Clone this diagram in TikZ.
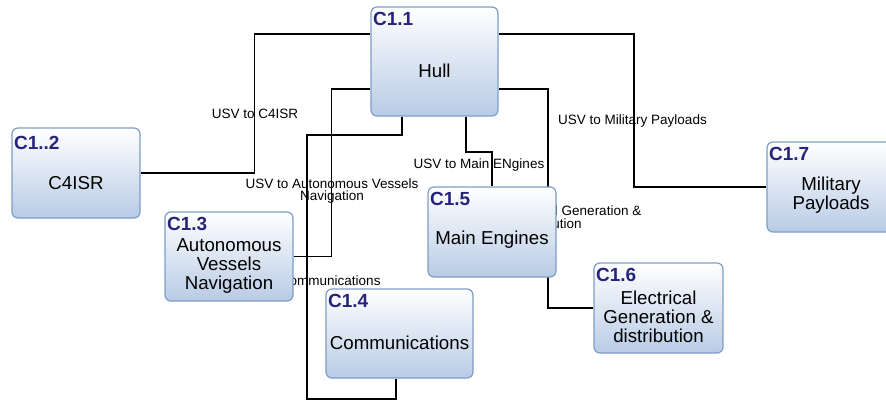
\documentclass[tikz,border=0pt]{standalone}
\usepackage{fontspec}
\setmainfont{Liberation Sans}
\usepackage{tikz}
\usetikzlibrary{backgrounds}
\definecolor{boxline}{RGB}{126,157,196}
\definecolor{boxfill}{RGB}{184,203,229}
\definecolor{idblue}{RGB}{38,36,122}

\begin{document}
\begin{tikzpicture}[x=1pt,y=-1pt,
  box/.style={draw=boxline,line width=1.2pt,rounded corners=6pt,top color=white,bottom color=boxfill,inner sep=0pt},
  maintext/.style={font=\fontsize{18.7}{18.7}\selectfont,align=center,inner sep=0pt},
  idtext/.style={font=\fontsize{19}{20}\selectfont\bfseries,text=idblue,anchor=north west,inner sep=0pt},
  linktext/.style={font=\fontsize{13.5}{12.5}\selectfont,align=center,inner sep=0pt},
  wire/.style={line width=1.8pt,black}]
\path[use as bounding box,clip] (0,0) rectangle (886,402);

% components
\node[box,minimum width=127pt,minimum height=109pt] (hull) at (434.5,61.5) {};
\node[maintext] (hull-txt) at ([yshift=-9pt]hull.center) {Hull};
\node[idtext] (hull-id) at ([xshift=2.5pt,yshift=-6pt]hull.north west) {C1.1};

\node[box,minimum width=128pt,minimum height=90pt] (cfourisr) at (76,173) {};
\node[maintext] (cfourisr-txt) at ([yshift=-10pt]cfourisr.center) {C4ISR};
\node[idtext] (cfourisr-id) at ([xshift=2.5pt,yshift=-8.5pt]cfourisr.north west) {C1..2};

\node[box,minimum width=128pt,minimum height=89pt] (avn) at (229,256.5) {};
\node[maintext] (avn-txt) at ([yshift=-9.5pt]avn.center) {Autonomous\\Vessels\\Navigation};
\node[idtext] (avn-id) at ([xshift=2.5pt,yshift=-6pt]avn.north west) {C1.3};

\node[box,minimum width=147pt,minimum height=89pt] (comms) at (399.5,333.5) {};
\node[maintext] (comms-txt) at ([yshift=-9.5pt]comms.center) {Communications};
\node[idtext] (comms-id) at ([xshift=2.5pt,yshift=-6pt]comms.north west) {C1.4};

\node[box,minimum width=128pt,minimum height=90pt] (engines) at (492,232) {};
\node[maintext] (engines-txt) at ([yshift=-8pt]engines.center) {Main Engines};
\node[idtext] (engines-id) at ([xshift=2.5pt,yshift=-6pt]engines.north west) {C1.5};

\node[box,minimum width=129pt,minimum height=90pt] (elec) at (658.5,308) {};
\node[maintext] (elec-txt) at ([yshift=-9pt]elec.center) {Electrical\\Generation \&\\distribution};
\node[idtext] (elec-id) at ([xshift=2.5pt,yshift=-6pt]elec.north west) {C1.6};

\node[box,minimum width=128pt,minimum height=90pt] (payloads) at (831,187) {};
\node[maintext] (payloads-txt) at ([yshift=-8.5pt]payloads.center) {Military\\Payloads};
\node[idtext] (payloads-id) at ([xshift=2.5pt,yshift=-6pt]payloads.north west) {C1.7};

\begin{scope}[on background layer]
% connectors from the hull
\draw[wire] ([yshift=27.5pt]hull.west) -- ++(-116,0) |- (cfourisr.east);
\draw[wire] ([yshift=-27.5pt]hull.west) -- ++(-39,0) |- (avn.east);
\draw[wire] ([xshift=-32.5pt]hull.south) -- ++(0,18) -- ++(-95,0) -- ++(0,264) -| ([xshift=-3.5pt]comms.south);
\draw[wire] ([xshift=31.5pt]hull.south) -- ++(0,35) -| (engines.north);
\draw[wire] ([yshift=-27.5pt]hull.east) -- ++(49,0) |- (elec.west);
\draw[wire] ([yshift=27.5pt]hull.east) -- ++(135,0) |- (payloads.west);

% connector labels
\node[linktext] (l-c4isr) at (255,114) {USV to C4ISR};
\node[linktext] (l-avn) at (332,191) {USV to Autonomous Vessels\\Navigation};
\node[linktext] (l-comms) at (307,281) {USV to Communications};
\node[linktext] (l-engines) at (479,165) {USV to Main ENgines};
\node[linktext] (l-elec) at (549,217) {USV to Electrical Generation \&\\distribution};
\node[linktext] (l-payloads) at (632.5,121) {USV to Military Payloads};
\end{scope}
\end{tikzpicture}
\end{document}
